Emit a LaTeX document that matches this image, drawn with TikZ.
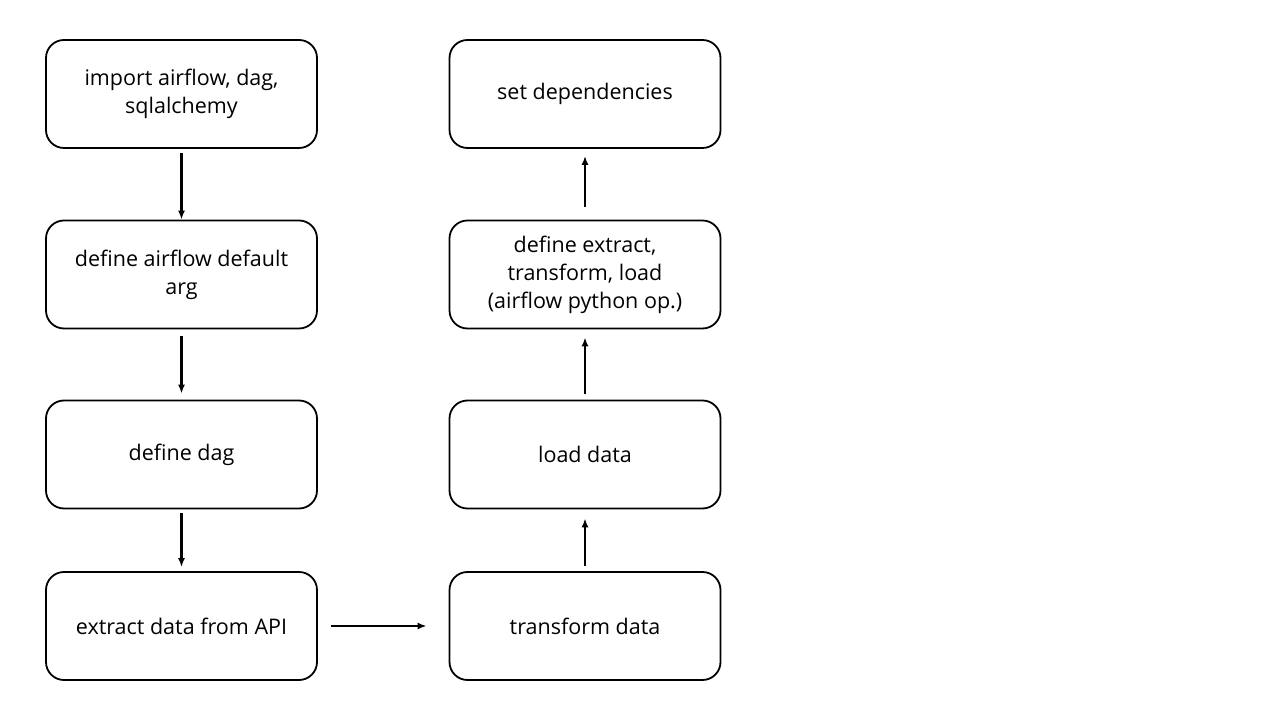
\documentclass[tikz,border=0pt]{standalone}
\usepackage{fontspec}
\setmainfont{Open Sans}
\usetikzlibrary{arrows.meta}

\begin{document}
\begin{tikzpicture}[x=1pt, y=1pt,
    stepbox/.style={draw, line width=1.8pt, rounded corners=18pt, minimum width=271pt, minimum height=108pt,
      align=center, font=\fontsize{21.5}{28}\selectfont},
    flow/.style={-{Latex[length=9pt, width=7pt]}, line width=2.3pt}]
    \useasboundingbox (0,0) rectangle (1280,720);
    \node[stepbox] (imp) at (181.5,626) {import airflow, dag,\\sqlalchemy};
    \node[stepbox] (args) at (181.5,445.5) {define airflow default\\arg};
    \node[stepbox] (dag) at (181.5,265.5) {define dag};
    \node[stepbox] (ext) at (181.5,94) {extract data from API};
    \node[stepbox] (trn) at (585,94) {transform data};
    \node[stepbox] (lod) at (585,265.5) {load data};
    \node[stepbox] (ops) at (585,445.5) {define extract,\\transform, load\\(airflow python op.)};
    \node[stepbox] (dep) at (585,626) {set dependencies};
    \draw[flow, shorten <=4pt] (imp) -- (args);
    \draw[flow, shorten <=7pt, shorten >=6pt] (args) -- (dag);
    \draw[flow, shorten <=4pt, shorten >=4pt] (dag) -- (ext);
    \draw[flow, shorten <=13pt, shorten >=22pt] (ext) -- (trn);
    \draw[flow, shorten <=5pt, shorten >=9pt] (trn) -- (lod);
    \draw[flow, shorten <=6pt, shorten >=8pt] (lod) -- (ops);
    \draw[flow, shorten <=13pt, shorten >=7pt] (ops) -- (dep);
\end{tikzpicture}
\end{document}
